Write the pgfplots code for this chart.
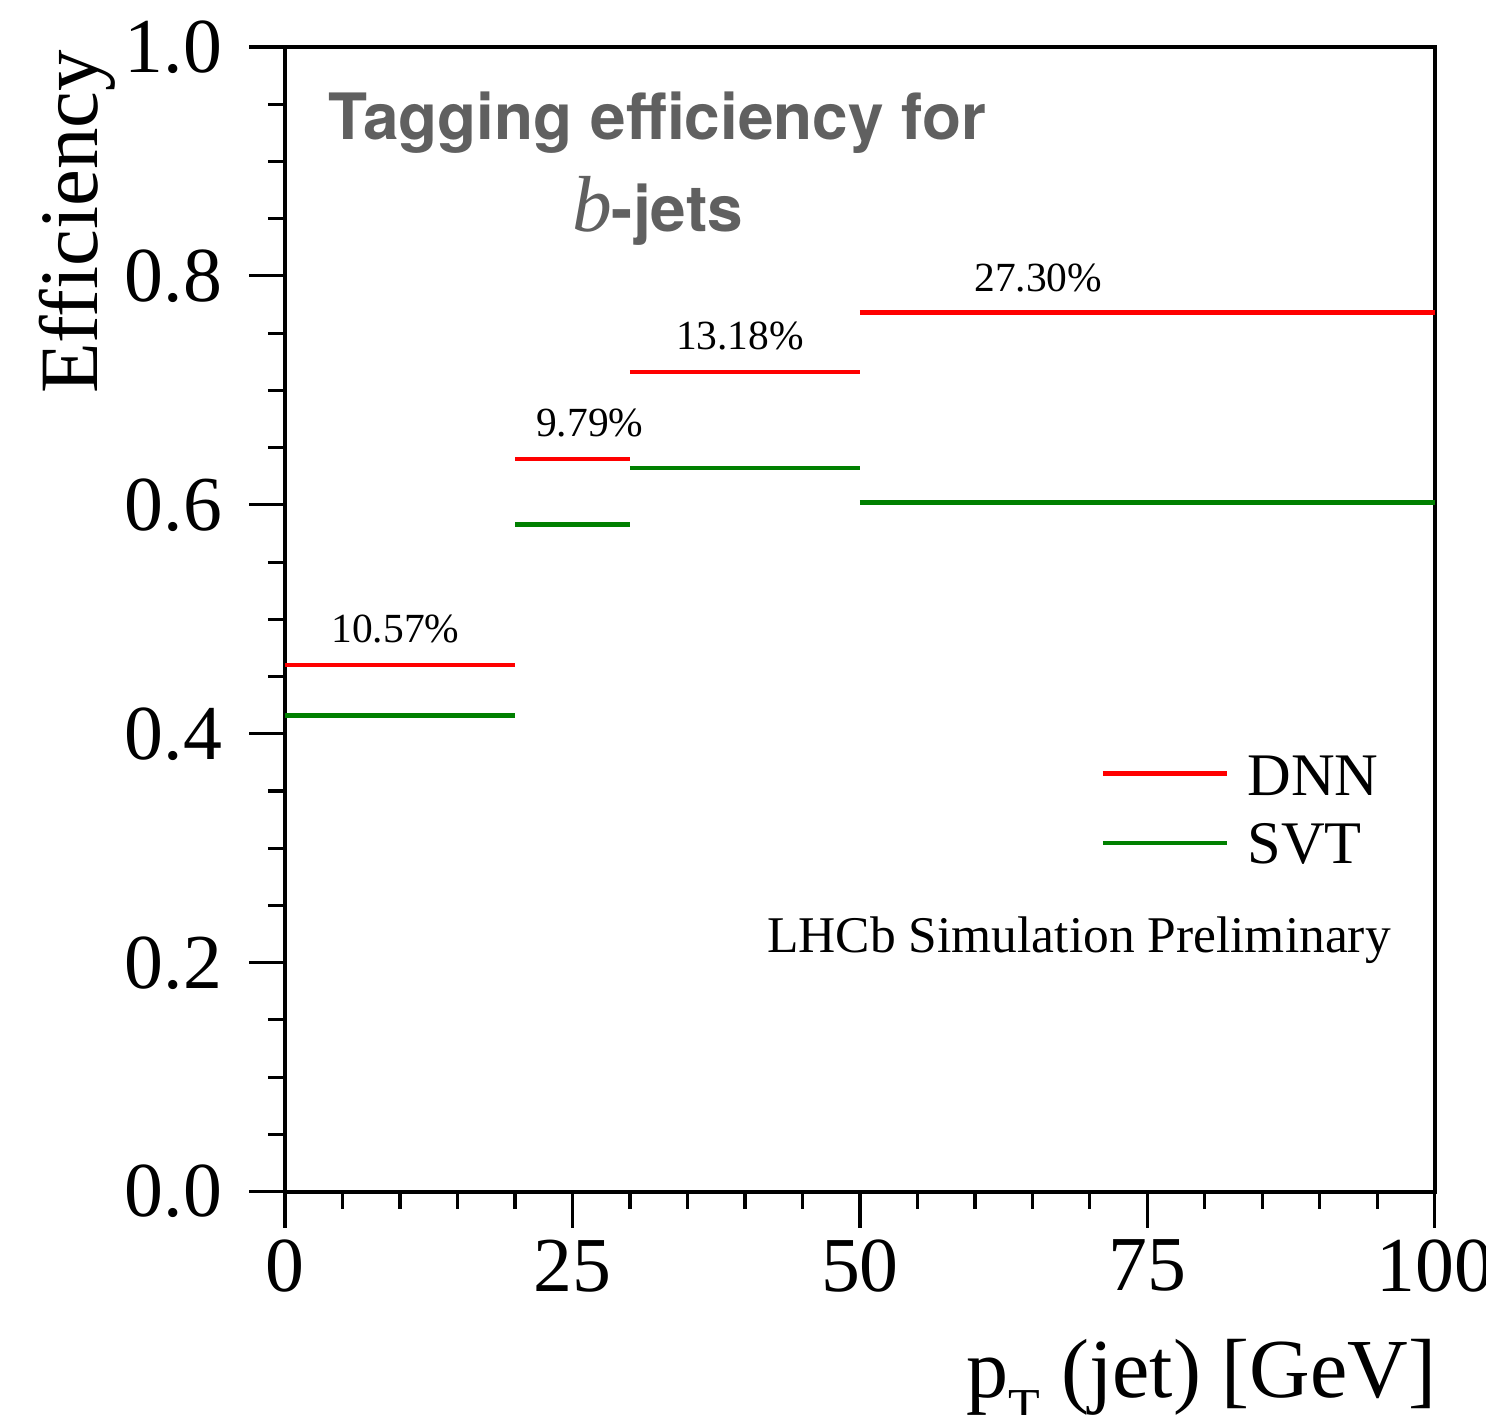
\documentclass[border=0pt]{standalone}
\usepackage{fontspec}
\setmainfont{Liberation Serif}
\newfontfamily\heros{TeX Gyre Heros}
\usepackage{pgfplots}
\pgfplotsset{compat=1.18}
\definecolor{dnnred}{RGB}{255,0,0}
\definecolor{svtgreen}{RGB}{0,128,0}
\definecolor{titlegray}{RGB}{96,96,96}
\begin{document}
\begin{tikzpicture}
\begin{axis}[
  name=ax, scale only axis, width=332.8pt, height=331.3pt,
  xmin=0, xmax=100, ymin=0, ymax=1,
  xtick={0,25,50,75,100}, minor x tick num=4,
  ytick={0,0.2,0.4,0.6,0.8,1.0}, minor y tick num=3,
  tick align=outside, xtick pos=bottom, ytick pos=left,
  major tick length=10.4pt, minor tick length=5pt,
  every tick/.style={black, line width=0.9pt},
  axis line style={line width=1.15pt},
  tick label style={font=\fontsize{22.5}{27}\selectfont},
  /pgf/number format/assume math mode=true,
  yticklabel style={xshift=-4.3pt, /pgf/number format/.cd, fixed, fixed zerofill, precision=1},
  xlabel={p\raisebox{-0.32em}{\fontsize{15}{17}\selectfont T} (jet) [GeV]},
  ylabel={Efficiency},
  every axis x label/.style={at={(rel axis cs:1.012,-0.18)}, anchor=base east, font=\fontsize{24.3}{29}\selectfont},
  every axis y label/.style={at={(rel axis cs:-0.1635,1.008)}, rotate=90, anchor=base east, font=\fontsize{24}{29}\selectfont},
  unbounded coords=jump,
  clip=false,
]
\addplot[dnnred, line width=1.3pt] coordinates {(0,0.460) (20,0.460) (20,nan) (20,0.640) (30,0.640) (30,nan) (30,0.716) (50,0.716) (50,nan) (50,0.768) (100,0.768)};
\addplot[svtgreen, line width=1.3pt] coordinates {(0,0.416) (20,0.416) (20,nan) (20,0.583) (30,0.583) (30,nan) (30,0.632) (50,0.632) (50,nan) (50,0.602) (100,0.602)};
% legend
\addplot[dnnred, line width=1.3pt, forget plot] coordinates {(71.13,0.3651) (81.9,0.3651)};
\addplot[svtgreen, line width=1.3pt, forget plot] coordinates {(71.13,0.3048) (81.9,0.3048)};
\node[anchor=base west, inner sep=0pt, font=\fontsize{17.5}{21}\selectfont] at (axis cs:83.65,0.3459) {DNN};
\node[anchor=base west, inner sep=0pt, font=\fontsize{17.5}{21}\selectfont] at (axis cs:83.65,0.2865) {SVT};
\node[anchor=base, inner sep=0pt, font=\fontsize{14.9}{17}\selectfont] at (axis cs:69.05,0.2087) {LHCb Simulation Preliminary};
% percentages
\node[anchor=base, inner sep=0pt, font=\fontsize{12}{14}\selectfont] at (axis cs:9.6,0.4795) {10.57\%};
\node[anchor=base, inner sep=0pt, font=\fontsize{12}{14}\selectfont] at (axis cs:26.5,0.6594) {9.79\%};
\node[anchor=base, inner sep=0pt, font=\fontsize{12}{14}\selectfont] at (axis cs:39.57,0.7354) {13.18\%};
\node[anchor=base, inner sep=0pt, font=\fontsize{12}{14}\selectfont] at (axis cs:65.5,0.7860) {27.30\%};
% title
\node[anchor=base, inner sep=0pt, text=titlegray, font=\heros\bfseries\fontsize{18.5}{22}\selectfont] at (axis cs:32.4,0.9188) {Tagging efficiency for};
\node[anchor=base, inner sep=0pt, text=titlegray, font=\heros\bfseries\fontsize{18.5}{22}\selectfont] at (axis cs:32.4,0.8384) {{\rmfamily\mdseries\itshape\fontsize{23}{26}\selectfont b}-jets};
\coordinate (bl) at (rel axis cs:0,0);
\coordinate (tr) at (rel axis cs:1,1);
\end{axis}
\pgfresetboundingbox
\path (bl) ++(-82.5pt,-64.5pt) (tr) ++(14.8pt,13.6pt);
\end{tikzpicture}
\end{document}
